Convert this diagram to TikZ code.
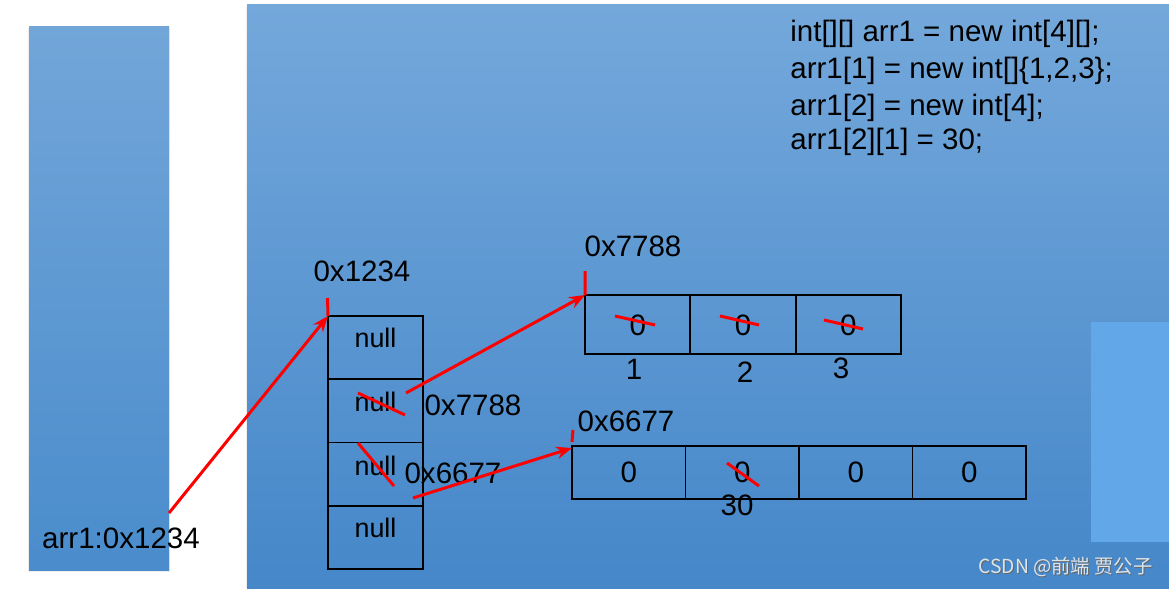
\documentclass[tikz,border=0pt]{standalone}
\usepackage{fontspec}
\setmainfont{Liberation Sans}
\newfontfamily\cjk{Noto Sans CJK SC}
\usetikzlibrary{arrows.meta}
\definecolor{heaptop}{HTML}{74A8DB}
\definecolor{heapbot}{HTML}{4587C9}
\definecolor{stacktop}{HTML}{72A6D9}
\definecolor{stackbot}{HTML}{4A8CCC}
\definecolor{lightbox}{HTML}{62A8E8}
\definecolor{wmark}{HTML}{DCE4EC}
\tikzset{
  cellbox/.style 2 args={draw=black, line width=1.1pt, minimum width=#1, minimum height=#2, inner sep=0pt, outer sep=0pt},
  bigtxt/.style={font=\fontsize{16.8}{20}\selectfont, inner sep=0pt, anchor=base},
  nulltxt/.style={font=\fontsize{15.3}{18}\selectfont, inner sep=0pt, anchor=base},
  redarrow/.style={draw=red, line width=1.7pt, -{Stealth[length=9pt,width=7pt]}},
  redline/.style={draw=red, line width=1.7pt},
  wmtxt/.style={font=\cjk\fontsize{11}{13}\selectfont, anchor=base, inner sep=0pt},
}
\begin{document}
\begin{tikzpicture}[x=0.02cm,y=-0.02cm]
\useasboundingbox (0,0) rectangle (1169,588);
\fill[white] (0,0) rectangle (1169,588);
% stack area
\fill[black!20,opacity=0.35] (27.5,28.5) rectangle (169.5,571.5);
\shade[top color=stacktop, bottom color=stackbot] (29,27) rectangle (169,570);
% heap area
\fill[black!20,opacity=0.3] (245.5,6.5) rectangle (1169,588);
\shade[top color=heaptop, bottom color=heapbot] (247,5) rectangle (1169,588);
\fill[lightbox] (1091,322) rectangle (1169,542);

% code
\node[bigtxt, anchor=base west] (code1) at (790,42) {int[][] arr1 = new int[4][];};
\node[bigtxt, anchor=base west] (code2) at (790,79) {arr1[1] = new int[]\{1,2,3\};};
\node[bigtxt, anchor=base west] (code3) at (790,115) {arr1[2] = new int[4];};
\node[bigtxt, anchor=base west] (code4) at (790,150) {arr1[2][1] = 30;};

% stack variable
\node[bigtxt] (var) at (121,548.5) {arr1:0x1234};
\coordinate (varout) at (169,513);

% outer array
\node[cellbox={1.9cm}{1.265cm}] (c0) at (375.5,347.6) {};
\node[cellbox={1.9cm}{1.265cm}] (c1) at (375.5,410.9) {};
\node[cellbox={1.9cm}{1.265cm}] (c2) at (375.5,474.1) {};
\node[cellbox={1.9cm}{1.265cm}] (c3) at (375.5,537.4) {};
\node[nulltxt] (n0) at (375.5,347.7) {null};
\node[nulltxt] (n1) at (375.5,411.7) {null};
\node[nulltxt] (n2) at (375.5,475) {null};
\node[nulltxt] (n3) at (375.5,537.3) {null};
\node[bigtxt] (addrA) at (362,281.5) {0x1234};
\coordinate (tickA) at (327.5,298);

% array 0x7788
\node[cellbox={2.107cm}{1.18cm}] (a0) at (637.7,324.5) {};
\node[cellbox={2.107cm}{1.18cm}] (a1) at (743,324.5) {};
\node[cellbox={2.107cm}{1.18cm}] (a2) at (848.3,324.5) {};
\node[bigtxt] (a0v) at (637.7,335.5) {0};
\node[bigtxt] (a1v) at (743,335.5) {0};
\node[bigtxt] (a2v) at (848.3,335.5) {0};
\node[bigtxt] (a0n) at (634,379) {1};
\node[bigtxt] (a1n) at (745,382) {2};
\node[bigtxt] (a2n) at (841,378.7) {3};
\node[bigtxt] (addrB) at (633,256) {0x7788};
\coordinate (tickB) at (585,271);

% array 0x6677
\node[cellbox={2.27cm}{1.06cm}] (b0) at (628.75,472.5) {};
\node[cellbox={2.27cm}{1.06cm}] (b1) at (742.25,472.5) {};
\node[cellbox={2.27cm}{1.06cm}] (b2) at (855.75,472.5) {};
\node[cellbox={2.27cm}{1.06cm}] (b3) at (969.25,472.5) {};
\node[bigtxt] (b0v) at (628.75,482.7) {0};
\node[bigtxt] (b1v) at (742.25,482.7) {0};
\node[bigtxt] (b2v) at (855.75,482.7) {0};
\node[bigtxt] (b3v) at (969.25,482.7) {0};
\node[bigtxt] (b1n) at (737,515.7) {30};
\node[bigtxt] (addrC) at (626,431.7) {0x6677};
\coordinate (tickC) at (573,430);

% address labels next to outer array
\node[bigtxt] (lab1) at (473,415) {0x7788};
\node[bigtxt] (lab2) at (453,483) {0x6677};

% red ticks
\draw[redline] (tickA) -- (c0.north west);
\draw[redline] (tickB) -- (a0.north west);
\draw[redline] (tickC) -- ([yshift=0.08cm]b0.north west);

% strike-through marks
\draw[redline] (615,316) -- (655,325);
\draw[redline] (720,316) -- (759,325);
\draw[redline] (824,320) -- (863,329);
\draw[redline] (727,463) -- (759,486);
\draw[redline] (358,393) -- (405,415);
\draw[redline] (358,443) -- (394,486);

% arrows
\coordinate (out1) at (406,393);
\coordinate (out2) at (413,498);
\draw[redarrow] (varout) -- (c0.north west);
\draw[redarrow] (out1) -- (a0.north west);
\draw[redarrow] (out2) -- ([yshift=-0.04cm]b0.north west);

% watermark
\node[wmtxt, text=black!60] (wms) at (1066.5,574) {CSDN @前端 贾公子};
\node[wmtxt, text=wmark] (wm) at (1065.5,573) {CSDN @前端 贾公子};
\end{tikzpicture}
\end{document}
